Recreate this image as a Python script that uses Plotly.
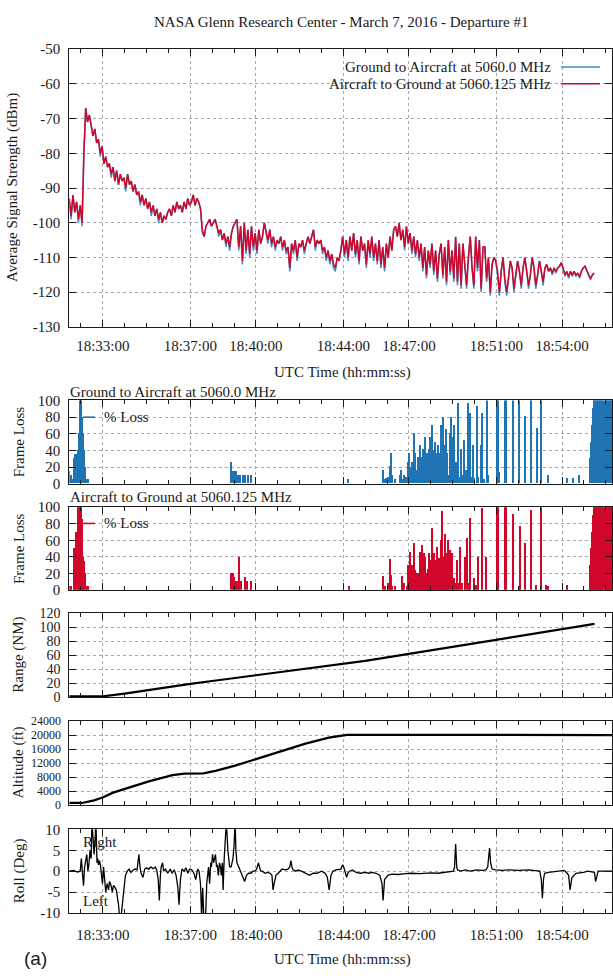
import plotly.graph_objects as go

DAY = "2016-03-07 "
W, H = 613, 979

# ---------------- data ----------------
# Average signal strength (dBm), logged every 5 s starting at 18:31:28
SIGNAL_START = "18:31:28"
SIGNAL_STEP_S = 5
SIGNAL_A2G_DBM = [
    -93, -98, -92, -97, -94, -99, -95, -100, -80, -67, -71, -69,
    -72, -75, -73, -77, -76, -80, -78, -83, -81, -84, -83, -86,
    -84, -88, -85, -89, -86, -88, -87, -90, -86, -89, -88, -91,
    -89, -92, -91, -94, -92, -95, -93, -96, -94, -97, -95, -98,
    -96, -99, -97, -100, -98, -99, -97, -96, -98, -95, -97, -94,
    -96, -95, -97, -94, -96, -93, -95, -94, -92, -95, -93, -94,
    -96, -102, -104, -101, -100, -99, -101, -100, -99, -101, -103, -102,
    -105, -103, -106, -104, -107, -103, -101, -100, -99, -107, -101, -111,
    -100, -108, -102, -109, -101, -107, -103, -108, -102, -106, -104, -100,
    -103, -105, -102, -106, -104, -107, -105, -106, -104, -107, -105, -108,
    -107, -113, -106, -108, -105, -110, -106, -107, -105, -108, -106, -104,
    -106, -104, -102, -107, -105, -106, -105, -108, -107, -110, -108, -111,
    -109, -112, -113, -110, -111, -108, -104, -109, -105, -110, -104, -108,
    -103, -109, -105, -111, -104, -108, -106, -112, -105, -109, -104, -110,
    -106, -111, -105, -112, -107, -113, -106, -110, -104, -108, -102, -101,
    -104, -100, -105, -102, -107, -101, -106, -103, -108, -104, -109, -105,
    -110, -106, -113, -107, -115, -108, -112, -106, -114, -108, -116, -109,
    -106, -115, -107, -117, -105, -114, -108, -116, -104, -117, -106, -118,
    -106, -112, -118, -110, -104, -113, -118, -104, -113, -105, -119, -107,
    -107, -116, -110, -120, -112, -110, -111, -114, -120, -114, -110, -116,
    -120, -116, -111, -113, -119, -115, -111, -114, -118, -113, -110, -114,
    -118, -115, -110, -113, -118, -115, -111, -114, -117, -113, -112, -114,
    -113, -114.5, -113, -114, -113, -112.5, -111.5, -113, -115, -114, -115.5, -114,
    -115, -114, -115, -114.5, -115.5, -114, -113, -112.5, -114, -115, -116, -115,
    -114.5,
]
SIGNAL_G2A_DBM = [
    -94, -99, -92, -97, -94, -100, -95, -101, -80, -67, -71, -69,
    -72, -75, -73, -77, -76, -81, -78, -83, -81, -84, -83, -87,
    -84, -88, -85, -89, -86, -88, -87, -91, -86, -89, -88, -91,
    -89, -92, -91, -95, -92, -95, -93, -96, -94, -98, -95, -98,
    -96, -100, -97, -100, -98, -99, -97, -96, -98, -95, -97, -94,
    -96, -95, -97, -94, -96, -93, -95, -94, -92, -95, -93, -94,
    -96, -103, -104, -101, -100, -99, -101, -100, -99, -101, -104, -102,
    -105, -103, -107, -104, -108, -103, -101, -100, -99, -108, -101, -112,
    -100, -109, -102, -110, -101, -108, -103, -109, -102, -106, -104, -100,
    -103, -106, -102, -107, -104, -108, -105, -106, -104, -108, -105, -109,
    -107, -114, -106, -109, -105, -111, -106, -107, -105, -109, -106, -104,
    -106, -104, -102, -108, -105, -106, -105, -109, -107, -111, -108, -112,
    -109, -113, -114, -110, -111, -108, -104, -110, -105, -111, -104, -108,
    -103, -110, -105, -112, -104, -108, -106, -113, -105, -110, -104, -111,
    -106, -112, -105, -113, -107, -114, -106, -110, -104, -108, -102, -101,
    -104, -100, -105, -102, -108, -101, -106, -103, -109, -104, -110, -105,
    -111, -106, -114, -107, -116, -108, -113, -106, -115, -108, -117, -109,
    -106, -116, -107, -118, -105, -115, -108, -117, -104, -118, -106, -119,
    -106, -112, -119, -110, -104, -113, -119, -104, -114, -105, -120, -107,
    -107, -117, -110, -121, -112, -110, -111, -115, -121, -114, -110, -117,
    -121, -116, -111, -113, -120, -115, -111, -114, -119, -113, -110, -114,
    -119, -115, -110, -113, -119, -115, -111, -114, -118, -113, -112, -114,
    -113, -115, -113, -114.5, -113, -112.5, -111.5, -113.5, -115.5, -114, -116, -114,
    -115.5, -114, -115.5, -114.5, -116, -114, -113, -112.5, -114, -115.5, -116.5, -115,
    -114.5,
]

# Frame loss (%), Ground to Aircraft at 5060.0 MHz
LOSS_G2A_TIME = [
    "18:31:29", "18:31:33", "18:31:37", "18:31:42", "18:31:46", "18:31:49", "18:31:52",
    "18:31:55", "18:31:58", "18:32:01", "18:32:04", "18:32:07", "18:32:10", "18:32:13",
    "18:32:17", "18:32:21",
    "18:38:54", "18:38:58", "18:39:02", "18:39:06", "18:39:11", "18:39:18", "18:39:25",
    "18:39:31", "18:39:40", "18:39:49",
    "18:44:15",
    "18:45:50", "18:45:56", "18:45:59", "18:46:05", "18:46:08", "18:46:12", "18:46:16",
    "18:46:22", "18:46:36", "18:46:40", "18:46:44", "18:46:49", "18:46:53", "18:46:58",
    "18:47:01", "18:47:04", "18:47:06", "18:47:08", "18:47:11", "18:47:14", "18:47:16",
    "18:47:19", "18:47:21", "18:47:23", "18:47:25", "18:47:27", "18:47:30", "18:47:32",
    "18:47:35", "18:47:37", "18:47:39", "18:47:42", "18:47:44", "18:47:47", "18:47:50",
    "18:47:52", "18:47:54", "18:47:56", "18:47:58", "18:48:00", "18:48:03", "18:48:05",
    "18:48:07", "18:48:09", "18:48:12", "18:48:14", "18:48:17", "18:48:19", "18:48:21",
    "18:48:24", "18:48:26", "18:48:28", "18:48:30", "18:48:33", "18:48:35", "18:48:37",
    "18:48:39", "18:48:41", "18:48:43", "18:48:45", "18:48:47", "18:48:50", "18:48:53",
    "18:48:55", "18:48:57", "18:48:59", "18:49:01", "18:49:04", "18:49:07", "18:49:11",
    "18:49:14", "18:49:17", "18:49:20", "18:49:23", "18:49:27", "18:49:32", "18:49:35",
    "18:49:38", "18:49:43", "18:49:46", "18:49:50", "18:49:53", "18:49:56", "18:50:01",
    "18:50:07", "18:50:12", "18:50:18", "18:50:22", "18:50:27", "18:50:35", "18:50:38",
    "18:51:02", "18:51:05", "18:51:08", "18:51:25", "18:51:28", "18:51:46", "18:52:03",
    "18:52:19", "18:52:37", "18:52:52", "18:53:03", "18:53:24", "18:54:16", "18:54:31",
    "18:54:48",
    "18:55:17", "18:55:19", "18:55:21", "18:55:23", "18:55:25", "18:55:28", "18:55:31",
    "18:55:34", "18:55:37", "18:55:40", "18:55:43", "18:55:46", "18:55:49", "18:55:52",
    "18:55:55", "18:55:58", "18:56:01", "18:56:04", "18:56:07", "18:56:10", "18:56:13",
    "18:56:16", "18:56:19",
]
LOSS_G2A_PCT = [
    15, 10, 5, 30, 35, 35, 40,
    60, 100, 100, 80, 60, 40, 20,
    5, 5,
    25, 15, 15, 15, 10, 10, 10,
    10, 10, 10,
    5,
    16, 5, 6, 8, 21, 36, 10,
    5, 10, 16, 5, 10, 8, 26,
    36, 15, 10, 20, 26, 12, 60,
    36, 10, 16, 20, 31, 15, 46,
    31, 20, 41, 30, 56, 26, 35,
    36, 20, 41, 30, 56, 45, 70,
    40, 36, 50, 30, 36, 25, 46,
    20, 36, 15, 70, 30, 80, 25,
    46, 20, 65, 15, 36, 10, 60,
    20, 80, 15, 56, 70, 10, 26,
    10, 96, 8, 41, 10, 52, 8,
    16, 96, 10, 85, 8, 46, 6,
    93, 8, 46, 85, 5, 100, 10,
    100, 100, 14, 100, 100, 100, 100,
    81, 100, 66, 100, 10, 6, 6,
    10,
    10, 30, 50, 70, 90, 100, 100,
    100, 100, 100, 100, 100, 100, 100,
    100, 100, 100, 100, 100, 100, 100,
    100, 100,
]

# Frame loss (%), Aircraft to Ground at 5060.125 MHz
LOSS_A2G_TIME = [
    "18:31:29", "18:31:33", "18:31:42", "18:31:46", "18:31:49", "18:31:52", "18:31:55",
    "18:31:58", "18:32:01", "18:32:04", "18:32:07", "18:32:10", "18:32:13", "18:32:17",
    "18:32:21",
    "18:38:54", "18:38:58", "18:39:02", "18:39:07", "18:39:11", "18:39:16", "18:39:20",
    "18:39:31", "18:39:37", "18:39:48",
    "18:44:17",
    "18:45:50", "18:45:56", "18:46:03", "18:46:08", "18:46:12", "18:46:16", "18:46:22",
    "18:46:42", "18:46:45", "18:46:49", "18:46:55", "18:47:00", "18:47:03", "18:47:05",
    "18:47:08", "18:47:10", "18:47:12", "18:47:14", "18:47:17", "18:47:19", "18:47:21",
    "18:47:23", "18:47:26", "18:47:29", "18:47:31", "18:47:33", "18:47:35", "18:47:37",
    "18:47:40", "18:47:42", "18:47:44", "18:47:46", "18:47:49", "18:47:51", "18:47:53",
    "18:47:55", "18:47:58", "18:48:00", "18:48:02", "18:48:05", "18:48:07", "18:48:09",
    "18:48:12", "18:48:14", "18:48:16", "18:48:18", "18:48:21", "18:48:23", "18:48:26",
    "18:48:28", "18:48:31", "18:48:33", "18:48:35", "18:48:37", "18:48:39", "18:48:42",
    "18:48:44", "18:48:46", "18:48:48", "18:48:52", "18:48:55", "18:49:00", "18:49:04",
    "18:49:08", "18:49:12", "18:49:16", "18:49:21", "18:49:28", "18:49:34", "18:49:40",
    "18:49:45", "18:49:50", "18:49:59", "18:50:04", "18:50:10", "18:50:22", "18:50:34",
    "18:51:02", "18:51:05", "18:51:25", "18:51:28", "18:51:48", "18:52:06", "18:52:19",
    "18:52:37", "18:52:51", "18:53:04", "18:53:16", "18:53:22", "18:54:16",
    "18:55:17", "18:55:19", "18:55:21", "18:55:23", "18:55:25", "18:55:28", "18:55:31",
    "18:55:34", "18:55:37", "18:55:40", "18:55:43", "18:55:46", "18:55:49", "18:55:52",
    "18:55:55", "18:55:58", "18:56:01", "18:56:04", "18:56:07", "18:56:10", "18:56:13",
    "18:56:16", "18:56:19",
]
LOSS_A2G_PCT = [
    5, 5, 50, 45, 70, 100, 100,
    100, 100, 85, 40, 35, 20, 5,
    5,
    20, 20, 15, 10, 10, 40, 10,
    15, 10, 10,
    5,
    16, 5, 8, 37, 18, 5, 4,
    16, 5, 8, 5, 30, 10, 46,
    15, 30, 10, 56, 12, 24, 15,
    20, 10, 20, 15, 46, 20, 54,
    25, 44, 15, 40, 20, 20, 25,
    44, 20, 36, 20, 75, 30, 44,
    20, 36, 25, 52, 20, 38, 20,
    60, 95, 20, 40, 15, 67, 20,
    44, 15, 60, 10, 48, 44, 14,
    8, 36, 8, 52, 8, 40, 62,
    8, 87, 14, 6, 40, 99, 40,
    100, 100, 100, 100, 91, 77, 56,
    96, 6, 100, 6, 5, 6,
    10, 30, 50, 70, 90, 100, 100,
    100, 100, 100, 100, 100, 100, 100,
    100, 100, 100, 100, 100, 100, 100,
    100, 100,
]

# Range from the ground station (NM)
RANGE_TIME = [
    "18:31:28", "18:32:00", "18:32:20", "18:32:50", "18:33:00", "18:34:00", "18:35:00",
    "18:36:00", "18:37:00", "18:38:00", "18:39:00", "18:40:00", "18:41:00", "18:42:00",
    "18:43:00", "18:44:00", "18:45:00", "18:46:00", "18:47:00", "18:48:00", "18:49:00",
    "18:50:00", "18:51:00", "18:52:00", "18:53:00", "18:54:00", "18:55:00", "18:55:29",
]
RANGE_NM = [
    1, 1, 0, 0, 1, 5, 10,
    14, 19, 23, 27, 31, 35, 39,
    43, 48, 52, 57, 62, 67, 72,
    77, 82, 87, 92, 97, 102, 105,
]

# Aircraft altitude (ft)
ALT_TIME = [
    "18:31:28", "18:32:03", "18:32:36", "18:33:01", "18:33:28", "18:34:01", "18:35:06",
    "18:36:11", "18:36:44", "18:37:36", "18:38:09", "18:39:03", "18:40:00", "18:41:12",
    "18:42:16", "18:43:20", "18:44:00", "18:44:10", "18:50:00", "18:56:20",
]
ALT_FT = [
    650, 650, 1400, 2300, 3600, 4700, 6800,
    8600, 9000, 9100, 9800, 11300, 13200, 15500,
    17600, 19300, 20000, 20100, 20100, 20000,
]

# Aircraft roll (deg), positive = right wing down
ROLL_TIME = [
    "18:31:28", "18:31:40", "18:31:50", "18:31:58", "18:32:01", "18:32:04", "18:32:07",
    "18:32:10", "18:32:12", "18:32:16", "18:32:19", "18:32:21", "18:32:25", "18:32:28",
    "18:32:30", "18:32:33", "18:32:36", "18:32:39", "18:32:41", "18:32:44", "18:32:46",
    "18:32:48", "18:32:51", "18:32:54", "18:32:59", "18:33:02", "18:33:06", "18:33:08",
    "18:33:12", "18:33:16", "18:33:18", "18:33:21", "18:33:24", "18:33:26", "18:33:29",
    "18:33:31", "18:33:34", "18:33:37", "18:33:43", "18:33:46", "18:33:50", "18:33:52",
    "18:33:57", "18:34:02", "18:34:07", "18:34:12", "18:34:17", "18:34:23", "18:34:28",
    "18:34:34", "18:34:39", "18:34:42", "18:34:45", "18:34:50", "18:34:55", "18:35:00",
    "18:35:06", "18:35:12", "18:35:18", "18:35:24", "18:35:28", "18:35:32", "18:35:35",
    "18:35:38", "18:35:40", "18:35:44", "18:35:47", "18:35:52", "18:35:58", "18:36:05",
    "18:36:10", "18:36:16", "18:36:21", "18:36:26", "18:36:29", "18:36:33", "18:36:37",
    "18:36:43", "18:36:48", "18:36:53", "18:36:58", "18:37:04", "18:37:10", "18:37:15",
    "18:37:18", "18:37:20", "18:37:24", "18:37:28", "18:37:31", "18:37:34", "18:37:37",
    "18:37:42", "18:37:45", "18:37:47", "18:37:50", "18:37:53", "18:37:56", "18:37:58",
    "18:38:01", "18:38:04", "18:38:09", "18:38:12", "18:38:14", "18:38:17", "18:38:20",
    "18:38:23", "18:38:25", "18:38:28", "18:38:30", "18:38:33", "18:38:36", "18:38:39",
    "18:38:43", "18:38:46", "18:38:48", "18:38:52", "18:38:57", "18:39:00", "18:39:03",
    "18:39:05", "18:39:08", "18:39:13", "18:39:17", "18:39:21", "18:39:24", "18:39:29",
    "18:39:34", "18:39:40", "18:39:46", "18:39:52", "18:39:57", "18:40:02", "18:40:07",
    "18:40:10", "18:40:13", "18:40:18", "18:40:25", "18:40:32", "18:40:39", "18:40:44",
    "18:40:47", "18:40:50", "18:40:55", "18:41:01", "18:41:07", "18:41:12", "18:41:20",
    "18:41:28", "18:41:33", "18:41:36", "18:41:39", "18:41:42", "18:41:49", "18:41:56",
    "18:42:05", "18:42:15", "18:42:27", "18:42:37", "18:42:48", "18:43:00", "18:43:10",
    "18:43:16", "18:43:21", "18:43:26", "18:43:31", "18:43:40", "18:43:53", "18:43:58",
    "18:44:01", "18:44:04", "18:44:09", "18:44:12", "18:44:17", "18:44:25", "18:44:35",
    "18:44:47", "18:45:00", "18:45:10", "18:45:19", "18:45:30", "18:45:40", "18:45:46",
    "18:45:49", "18:45:53", "18:46:02", "18:46:13", "18:46:30", "18:46:50", "18:47:06",
    "18:47:30", "18:48:00", "18:48:20", "18:48:40", "18:48:54", "18:49:02", "18:49:05",
    "18:49:08", "18:49:11", "18:49:13", "18:49:21", "18:49:35", "18:49:48", "18:50:05",
    "18:50:20", "18:50:31", "18:50:36", "18:50:41", "18:50:44", "18:50:48", "18:50:57",
    "18:51:15", "18:51:35", "18:52:00", "18:52:29", "18:52:50", "18:52:59", "18:53:03",
    "18:53:06", "18:53:09", "18:53:12", "18:53:23", "18:53:44", "18:54:06", "18:54:14",
    "18:54:18", "18:54:22", "18:54:27", "18:54:38", "18:54:59", "18:55:10", "18:55:29",
    "18:55:32", "18:55:35", "18:55:39", "18:55:53", "18:56:20",
]
ROLL_DEG = [
    0, 0.2, -0.2, 0, 3, 0.5, -3.5,
    1, 2, 4, 0, 1, 5, 3,
    12, 6, 4, 8, 12, 2, 3,
    1.5, 2.5, 1, -3, 1, -2, -5,
    -3, -4.5, -2.5, -3, -4, -5, -3.5,
    -3.5, -4, -4.5, -8, -11, -11, -9,
    -5, -1, 0, 0.5, -0.3, 0.2, 0.5,
    0.3, 4, 1, -0.5, -1.5, 0.5, 0.8,
    0.5, 1, 0.6, 1, 0.2, -2, -7,
    -1, 1, 2, 0, 0.5, -0.5, 0.5,
    -0.5, 0.3, -1, -4, -8, -2, 0.5,
    0, 0.8, -0.5, 0.5, 0.3, -0.5, -2,
    0, 0.5, 0, -3, -11, -4, -11,
    -11, -3, -1, 1, -3, 2, 1,
    4, 2, 4, 1, 1.5, -1, 2,
    1, -1, 2, -4.5, 3, 6, 12,
    5, 2, 1, 1, 3, 6, 12,
    5, 2, 1, 0, -1, -1.5, -2.5,
    -1, -0.5, -0.5, 0, 0, 0.5, 2,
    0.5, 0, 0, -0.5, -0.3, -0.5, -1,
    -4.5, -3, -1, -0.5, 0, 0.5, 0.3,
    0.5, 1, 2.5, 1, 0.3, 0, 0.3,
    0, -0.5, -1, -0.5, -0.5, 0, -0.5,
    -1.5, -4.5, -1, 0, 0.3, 0.5, 1.5,
    1, 0, -1.5, -0.5, 0, 0.3, -0.3,
    -0.5, -0.3, -0.5, -0.3, -0.5, -1, -3,
    -7, -2, -1, -0.7, -0.8, -0.6, -0.5,
    -0.6, -0.4, -0.5, -0.3, -0.2, 0, 1,
    6.5, 1, 0.3, 0, 0.3, 0, 0.3,
    0.2, 0.3, 1, 5.5, 2, 0.5, 0.3,
    0.2, 0.3, 0.2, 0.3, 0.2, 0, -2,
    -6.5, -2, -0.5, -0.3, 0, 0.2, -0.5,
    -1, -4.5, -1.5, -0.5, -0.3, 0, -0.3,
    -2.5, -1, 0, 0, 0,
]

# Axis tick values and their printed labels
XTICK_TIMES = ["18:33:00", "18:37:00", "18:40:00", "18:44:00", "18:47:00", "18:51:00", "18:54:00"]
X_START, X_END = "18:31:28", "18:56:17"
SIGNAL_TICKS = [-130, -120, -110, -100, -90, -80, -70, -60, -50]
LOSS_TICKS = [0, 20, 40, 60, 80, 100]
RANGE_TICKS = [0, 20, 40, 60, 80, 100, 120]
ALT_TICKS = [0, 4000, 8000, 12000, 16000, 20000, 24000]
ROLL_TICKS = [-10, -5, 0, 5, 10]

# ---------------- styling ----------------
BLUE = "#1f74b4"
BLUE_LINE = "#3b8dc9"
RED = "#d0062a"
INK = "#1a1a1a"
GRID = "#a8a8a8"
SERIF = "Liberation Serif, Times New Roman, serif"
SANS = "Liberation Sans, Arial, sans-serif"


def stamp(times):
    return [DAY + t for t in times]


def py(pix):
    """pixel row -> paper fraction"""
    return 1 - pix / H


def px(pix):
    return pix / W


# panel pixel rows (top, bottom)
PANELS = [
    (41.7, 324.3),   # signal strength
    (399.0, 483.7),  # frame loss G2A
    (507.5, 591.5),  # frame loss A2G
    (615.5, 700.5),  # range
    (725.0, 810.5),  # altitude
    (835.0, 920.0),  # roll
]
X_DOMAIN = [px(69.3), px(612.0)]

fig = go.Figure()

# signal strength
fig.add_trace(go.Scatter(
    x0=DAY + SIGNAL_START, dx=SIGNAL_STEP_S * 1000, y=SIGNAL_G2A_DBM,
    mode="lines", line=dict(color=BLUE_LINE, width=1.5),
    xaxis="x", yaxis="y", showlegend=False))
fig.add_trace(go.Scatter(
    x0=DAY + SIGNAL_START, dx=SIGNAL_STEP_S * 1000, y=SIGNAL_A2G_DBM,
    mode="lines", line=dict(color=RED, width=1.5),
    xaxis="x", yaxis="y", showlegend=False))

# frame loss bars
fig.add_trace(go.Bar(
    x=stamp(LOSS_G2A_TIME), y=LOSS_G2A_PCT, width=4000,
    marker=dict(color=BLUE, line=dict(width=0)),
    xaxis="x2", yaxis="y2", showlegend=False))
fig.add_trace(go.Bar(
    x=stamp(LOSS_A2G_TIME), y=LOSS_A2G_PCT, width=4000,
    marker=dict(color=RED, line=dict(width=0)),
    xaxis="x3", yaxis="y3", showlegend=False))

# range, altitude, roll
fig.add_trace(go.Scatter(
    x=stamp(RANGE_TIME), y=RANGE_NM, mode="lines",
    line=dict(color="#000000", width=2.2), xaxis="x4", yaxis="y4", showlegend=False))
fig.add_trace(go.Scatter(
    x=stamp(ALT_TIME), y=ALT_FT, mode="lines",
    line=dict(color="#000000", width=2.2), xaxis="x5", yaxis="y5", showlegend=False))
fig.add_trace(go.Scatter(
    x=stamp(ROLL_TIME), y=ROLL_DEG, mode="lines",
    line=dict(color="#000000", width=1.3), xaxis="x6", yaxis="y6", showlegend=False))


def tickfont(size=15):
    return dict(family=SERIF, size=size, color=INK)


def x_axis(i, labels, standoff):
    ax = dict(
        type="date", domain=X_DOMAIN, anchor="y" if i == 1 else f"y{i}",
        range=[DAY + X_START, DAY + X_END],
        tickmode="array", tickvals=stamp(XTICK_TIMES), ticktext=XTICK_TIMES,
        showticklabels=labels, tickfont=tickfont(), ticklabelstandoff=standoff,
        ticks="inside", ticklen=7, tickwidth=1, tickcolor=INK,
        showline=True, linecolor=INK, linewidth=1, mirror="ticks",
        showgrid=True, gridcolor=GRID, griddash="dot", gridwidth=1,
        minor=dict(ticks="inside", ticklen=4, tickwidth=1, tickcolor=INK,
                   dtick=60000, tick0=DAY + "18:00:00", showgrid=False),
        zeroline=False, fixedrange=True,
    )
    if i > 1:
        ax["matches"] = "x"
    return ax


def y_axis(i, ticks, size=15):
    top, bottom = PANELS[i - 1]
    return dict(
        domain=[py(bottom), py(top)], anchor="x" if i == 1 else f"x{i}",
        range=[ticks[0], ticks[-1]],
        tickmode="array", tickvals=ticks, ticktext=[str(v) for v in ticks],
        tickfont=tickfont(size), ticklabelstandoff=5,
        ticks="inside", ticklen=7, tickwidth=1, tickcolor=INK,
        showline=True, linecolor=INK, linewidth=1, mirror="ticks",
        showgrid=True, gridcolor=GRID, griddash="dot", gridwidth=1,
        zeroline=False, fixedrange=True,
    )


layout = dict(
    width=W, height=H, margin=dict(l=0, r=0, t=0, b=0),
    paper_bgcolor="white", plot_bgcolor="white",
    font=dict(family=SERIF, size=15, color=INK),
    bargap=0, barmode="overlay",
)
for i in range(1, 7):
    key = "xaxis" if i == 1 else f"xaxis{i}"
    layout[key] = x_axis(i, labels=i in (1, 6), standoff=5 if i == 1 else 8)
layout["yaxis"] = y_axis(1, SIGNAL_TICKS)
layout["yaxis2"] = y_axis(2, LOSS_TICKS)
layout["yaxis3"] = y_axis(3, LOSS_TICKS)
layout["yaxis4"] = y_axis(4, RANGE_TICKS, size=14)
layout["yaxis5"] = y_axis(5, ALT_TICKS, size=12)
layout["yaxis6"] = y_axis(6, ROLL_TICKS)
fig.update_layout(**layout)


def text(s, x, y, xanchor="center", angle=0, size=15, family=SERIF):
    fig.add_annotation(text=s, x=px(x), y=py(y), xref="paper", yref="paper",
                       xanchor=xanchor, yanchor="middle", textangle=angle,
                       showarrow=False, font=dict(family=family, size=size, color=INK))


def key_line(x0, x1, y, color):
    fig.add_shape(type="line", xref="paper", yref="paper",
                  x0=px(x0), x1=px(x1), y0=py(y), y1=py(y),
                  line=dict(color=color, width=1.6))


text("NASA Glenn Research Center - March 7, 2016 - Departure #1", 341, 14)

# signal strength key (text left of sample line)
text("Ground to Aircraft at 5060.0 MHz", 553, 60, xanchor="right")
key_line(561, 600, 60, BLUE_LINE)
text("Aircraft to Ground at 5060.125 MHz", 553, 77, xanchor="right")
key_line(561, 600, 77, RED)

# panel titles above the frame-loss plots
text("Ground to Aircraft at 5060.0 MHz", 68, 390, xanchor="left")
text("Aircraft to Ground at 5060.125 MHz", 68, 497, xanchor="left")

# frame-loss keys
key_line(83, 95, 416, BLUE)
text("% Loss", 102, 416, xanchor="left")
key_line(83, 95, 524, RED)
text("% Loss", 102, 524, xanchor="left")

# y-axis titles
text("Average Signal Strength (dBm)", 12, 183, angle=-90)
text("Frame Loss", 18.5, 441, angle=-90)
text("Frame Loss", 18.5, 549.5, angle=-90)
text("Range (NM)", 18.5, 658, angle=-90)
text("Altitude (ft)", 18.5, 767.5, angle=-90)
text("Roll (Deg)", 19, 877.5, angle=-90)

# x-axis titles
text("UTC Time (hh:mm:ss)", 342, 371)
text("UTC Time (hh:mm:ss)", 342, 967)

# roll direction labels
text("Right", 81, 848, xanchor="left")
text("Left", 81, 908, xanchor="left")

text("(a)", 35, 966, size=19, family=SANS)

# page body without default margins so the figure sits flush in the window
fig.write_html("out.html", post_script="document.body.style.margin='0';")
